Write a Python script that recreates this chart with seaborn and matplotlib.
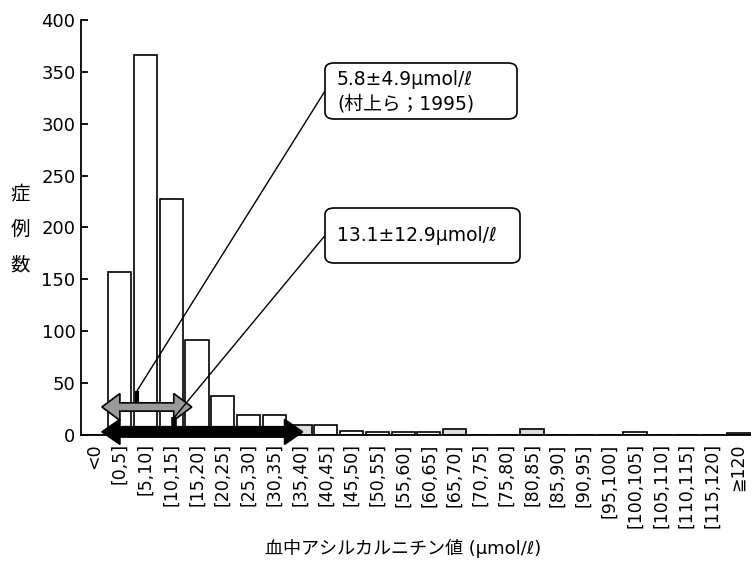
import numpy as np
import pandas as pd
import matplotlib
matplotlib.use('Agg')
import matplotlib.pyplot as plt
import seaborn as sns
from matplotlib.patches import FancyBboxPatch, Polygon


# bins of blood acylcarnitine (umol/l) and number of cases
bins = ['<0', '[0,5]', '[5,10]', '[10,15]', '[15,20]', '[20,25]', '[25,30]',
        '[30,35]', '[35,40]', '[40,45]', '[45,50]', '[50,55]', '[55,60]',
        '[60,65]', '[65,70]', '[70,75]', '[75,80]', '[80,85]', '[85,90]',
        '[90,95]', '[95,100]', '[100,105]', '[105,110]', '[110,115]',
        '[115,120]', '≧120']
cases = [0, 157, 366, 227, 92, 38, 19, 19, 10, 10, 4, 3, 3, 3, 6, 0, 0, 6,
         0, 0, 0, 3, 0, 0, 0, 2]

# reference values (mean, sd) shown in the boxes
ref_mean = [5.8, 13.1]
ref_sd = [4.9, 12.9]
ref_text = ['5.8±4.9μmol/ℓ\n(村上ら；1995)', '13.1±12.9μmol/ℓ']

shaded = ['[35,40]', '[65,70]', '[80,85]', '≧120']

df = pd.DataFrame({'bin': bins, 'cases': cases})

sns.set_style('ticks')
plt.rcParams['font.family'] = ['DejaVu Sans', 'Noto Sans CJK JP']
plt.rcParams['text.color'] = 'black'
plt.rcParams['axes.edgecolor'] = 'black'
plt.rcParams['xtick.color'] = 'black'
plt.rcParams['ytick.color'] = 'black'
plt.rcParams['xtick.labelcolor'] = 'black'
plt.rcParams['ytick.labelcolor'] = 'black'

W, H = 751, 562
fig = plt.figure(figsize=(W / 100, H / 100), dpi=100)
ax = fig.add_axes([81 / W, (H - 435) / H, 670 / W, 415 / H])

pal = {b: ('#dedede' if b in shaded else 'white') for b in bins}
sns.barplot(data=df, x='bin', y='cases', hue='bin', palette=pal, legend=False,
            edgecolor='black', linewidth=1.2, width=0.9, saturation=1, ax=ax)

ax.set_xlim(-0.5, 25.5)
ax.set_ylim(0, 400)
ax.set_yticks(np.arange(0, 401, 50))
ax.set_xlabel('')
ax.set_ylabel('')
sns.despine(ax=ax)
for s in ['left', 'bottom']:
    ax.spines[s].set_linewidth(1.3)
    ax.spines[s].set_color('black')
ax.tick_params(axis='y', direction='in', length=5, width=1.3, pad=4, labelsize=13,
               colors='black')
ax.tick_params(axis='x', length=0, pad=6, labelsize=12.5, colors='black')
ax.set_xticks(range(len(bins)))
ax.set_xticklabels(bins, rotation=90, ha='center', va='top')


def to_pos(v):
    # value in umol/l -> position on the category axis
    return 0.5 + v / 5.0


def double_arrow(x0, x1, yc, shaft, head, hl, fc):
    pts = [(x0, yc), (x0 + hl, yc + head / 2), (x0 + hl, yc + shaft / 2),
           (x1 - hl, yc + shaft / 2), (x1 - hl, yc + head / 2), (x1, yc),
           (x1 - hl, yc - head / 2), (x1 - hl, yc - shaft / 2),
           (x0 + hl, yc - shaft / 2), (x0 + hl, yc - head / 2)]
    p = Polygon(pts, closed=True, fc=fc, ec='black', lw=1.2, zorder=6, clip_on=False)
    ax.add_patch(p)


# range arrows (gray: 村上ら, black: this data)
double_arrow(0.31, 3.8, 27, 8, 26, 0.7, '#9a9a9a')
double_arrow(0.31, 8.1, 3, 10, 24, 0.7, 'black')

# mean markers
m1, m2 = to_pos(ref_mean[0]), to_pos(ref_mean[1])
ax.plot([m1, m1], [31, 42], color='black', lw=3, zorder=7, solid_capstyle='butt')
ax.plot([m2, m2], [8, 17], color='black', lw=4, zorder=7, solid_capstyle='butt')

# boxes with text
boxes = [(325, 63, 192, 56), (325, 208, 195, 55)]
text_y = [92, 235.5]
ends = [(m1, 42), (m2, 17)]
for (bx, by, bw, bh), ty, txt, end in zip(boxes, text_y, ref_text, ends):
    fig.add_artist(FancyBboxPatch((bx / W, 1 - (by + bh) / H), bw / W, bh / H,
                                  boxstyle='round,pad=0,rounding_size=0.012',
                                  transform=fig.transFigure, fc='white',
                                  ec='black', lw=1.2, zorder=5))
    fig.text(337 / W, 1 - ty / H, txt, fontsize=13.5, ha='left', va='center',
             linespacing=1.4, zorder=6, color='black')
    ax.annotate('', xy=end, xycoords='data',
                xytext=(bx / W, 1 - (by + bh / 2) / H), textcoords='figure fraction',
                arrowprops=dict(arrowstyle='-', lw=1.0, color='black',
                                shrinkA=0, shrinkB=0), zorder=7)

fig.text(20 / W, 1 - 229 / H, '症\n例\n数', fontsize=14, ha='center',
         va='center', linespacing=2.1, color='black')
fig.text(403 / W, 1 - 548 / H, '血中アシルカルニチン値 (μmol/ℓ)', fontsize=13,
         ha='center', va='center', color='black')

fig.savefig('out.png', dpi=100)
